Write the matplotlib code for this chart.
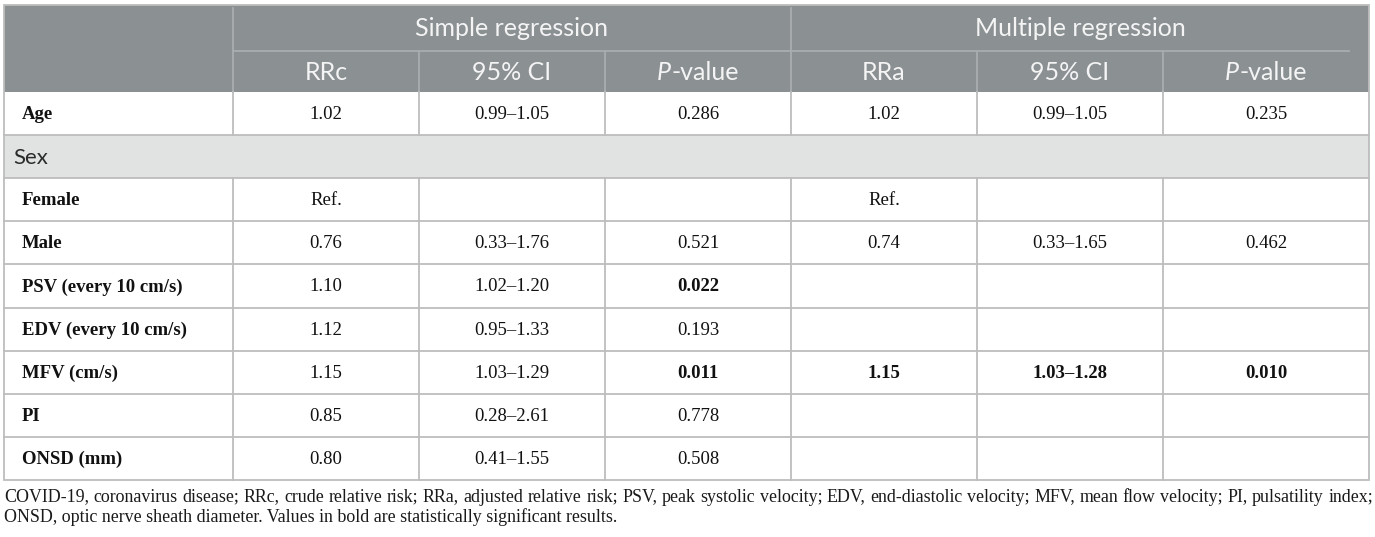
import matplotlib
matplotlib.use("Agg")
from matplotlib import pyplot as plt
from matplotlib import patches as patches

# table content
row_labels = ["Age", "Sex", "Female", "Male", "PSV (every 10 cm/s)",
              "EDV (every 10 cm/s)", "MFV (cm/s)", "PI", "ONSD (mm)"]
group_rows = ["Sex"]
rrc = ["1.02", "", "Ref.", "0.76", "1.10", "1.12", "1.15", "0.85", "0.80"]
ci_simple = ["0.99–1.05", "", "", "0.33–1.76", "1.02–1.20", "0.95–1.33",
             "1.03–1.29", "0.28–2.61", "0.41–1.55"]
p_simple = ["0.286", "", "", "0.521", "0.022", "0.193", "0.011", "0.778", "0.508"]
rra = ["1.02", "", "Ref.", "0.74", "", "", "1.15", "", ""]
ci_multi = ["0.99–1.05", "", "", "0.33–1.65", "", "", "1.03–1.28", "", ""]
p_multi = ["0.235", "", "", "0.462", "", "", "0.010", "", ""]
# which cells are printed in bold (statistically significant)
bold_cells = [(4, 2), (6, 2), (6, 3), (6, 4), (6, 5)]

group_titles = ["Simple regression", "Multiple regression"]
sub_titles = ["RRc", "95% CI", "P-value", "RRa", "95% CI", "P-value"]

footnote = ["COVID-19, coronavirus disease; RRc, crude relative risk; RRa, adjusted "
            "relative risk; PSV, peak systolic velocity; EDV, end-diastolic velocity; "
            "MFV, mean flow velocity; PI, pulsatility index;",
            "ONSD, optic nerve sheath diameter. Values in bold are statistically "
            "significant results."]

# layout in pixels
W, H = 1375, 537
col_x = [4, 233, 419, 605, 791, 977, 1163, 1369]
top, mid, head_bot = 4.5, 51, 92
row_h = 43.1

head_col = "#8b9093"
head_line = "#a9adaf"
grid_col = "#bdbdbd"
group_bg = "#e1e2e2"
serif = "Liberation Serif"
sans = "Lato"
head_fs = 18

fig = plt.figure(figsize=(W / 100, H / 100), dpi=100)
ax = fig.add_axes([0, 0, 1, 1])
ax.set_xlim(0, W)
ax.set_ylim(H, 0)
ax.axis("off")
r = fig.canvas.get_renderer()

# header block
ax.add_patch(patches.Rectangle((col_x[0], top), col_x[-1] - col_x[0], head_bot - top,
                               facecolor=head_col, edgecolor="none", zorder=1))
ax.plot([col_x[1], 1349], [mid, mid], color=head_line, lw=1.3, zorder=2)
for x in [col_x[1], col_x[4]]:
    ax.plot([x, x], [top + 3, head_bot], color=head_line, lw=1.3, zorder=2)
for x in [col_x[2], col_x[3], col_x[5], col_x[6]]:
    ax.plot([x, x], [mid, head_bot], color=head_line, lw=1.3, zorder=2)

for i, g in enumerate(group_titles):
    xc = (col_x[1 + 3 * i] + col_x[4 + 3 * i]) / 2
    ax.text(xc, (top + mid) / 2 + 1, g, ha="center", va="center", color="#f4f4f4",
            fontsize=head_fs, family=sans, zorder=3)

for j, s in enumerate(sub_titles):
    xc = (col_x[j + 1] + col_x[j + 2]) / 2
    yc = (mid + head_bot) / 2 + 1
    if s.startswith("P-"):
        t1 = ax.text(0, yc, "P", ha="left", va="center", color="#f4f4f4",
                     fontsize=head_fs, family=sans, style="italic", zorder=3)
        t2 = ax.text(0, yc, "-value", ha="left", va="center", color="#f4f4f4",
                     fontsize=head_fs, family=sans, zorder=3)
        w1 = t1.get_window_extent(r).width
        w2 = t2.get_window_extent(r).width
        x0 = xc - (w1 + w2) / 2
        t1.set_x(x0)
        t2.set_x(x0 + w1)
    else:
        ax.text(xc, yc, s, ha="center", va="center", color="#f4f4f4",
                fontsize=head_fs, family=sans, zorder=3)

# body
columns = [rrc, ci_simple, p_simple, rra, ci_multi, p_multi]
n = len(row_labels)
for i, lab in enumerate(row_labels):
    y0 = head_bot + i * row_h
    yc = y0 + row_h / 2
    if lab in group_rows:
        ax.add_patch(patches.Rectangle((col_x[0], y0), col_x[-1] - col_x[0], row_h,
                                       facecolor=group_bg, edgecolor="none", zorder=1))
        ax.text(13, yc + 1, lab, ha="left", va="center", fontsize=16,
                family=sans, color="#2b2b2b", zorder=3)
        continue
    ax.text(22, yc + 1, lab, ha="left", va="center", fontsize=13.5, family=serif,
            weight="bold", color="#111111", zorder=3)
    for j, col in enumerate(columns):
        if col[i]:
            xc = (col_x[j + 1] + col_x[j + 2]) / 2
            ax.text(xc, yc + 1, col[i], ha="center", va="center", fontsize=13.5,
                    family=serif, color="#111111", zorder=3,
                    weight="bold" if (i, j) in bold_cells else "normal")
    for x in col_x[1:-1]:
        ax.plot([x, x], [y0, y0 + row_h], color=grid_col, lw=1.3, zorder=2)

bottom = head_bot + n * row_h
for i in range(1, n):
    y = head_bot + i * row_h
    ax.plot([col_x[0], col_x[-1]], [y, y], color=grid_col, lw=1.3, zorder=2)

# outer border
ax.add_patch(patches.Rectangle((col_x[0], top), col_x[-1] - col_x[0], bottom - top,
                               facecolor="none", edgecolor=grid_col, lw=1.3, zorder=4))

foot_fs = 12.9


def justify(line, y, x0, x1):
    words = line.split(" ")
    ts = [ax.text(0, y, w, ha="left", va="center", fontsize=foot_fs, family=serif,
                  color="#1a1a1a") for w in words]
    widths = [t.get_window_extent(r).width for t in ts]
    gap = (x1 - x0 - sum(widths)) / (len(words) - 1)
    x = x0
    for t, w in zip(ts, widths):
        t.set_x(x)
        x += w + gap


justify(footnote[0], 497, 4, 1373)
ax.text(4, 517, footnote[1], ha="left", va="center", fontsize=foot_fs, family=serif,
        color="#1a1a1a")

fig.savefig("out.png", dpi=100, facecolor="white")
